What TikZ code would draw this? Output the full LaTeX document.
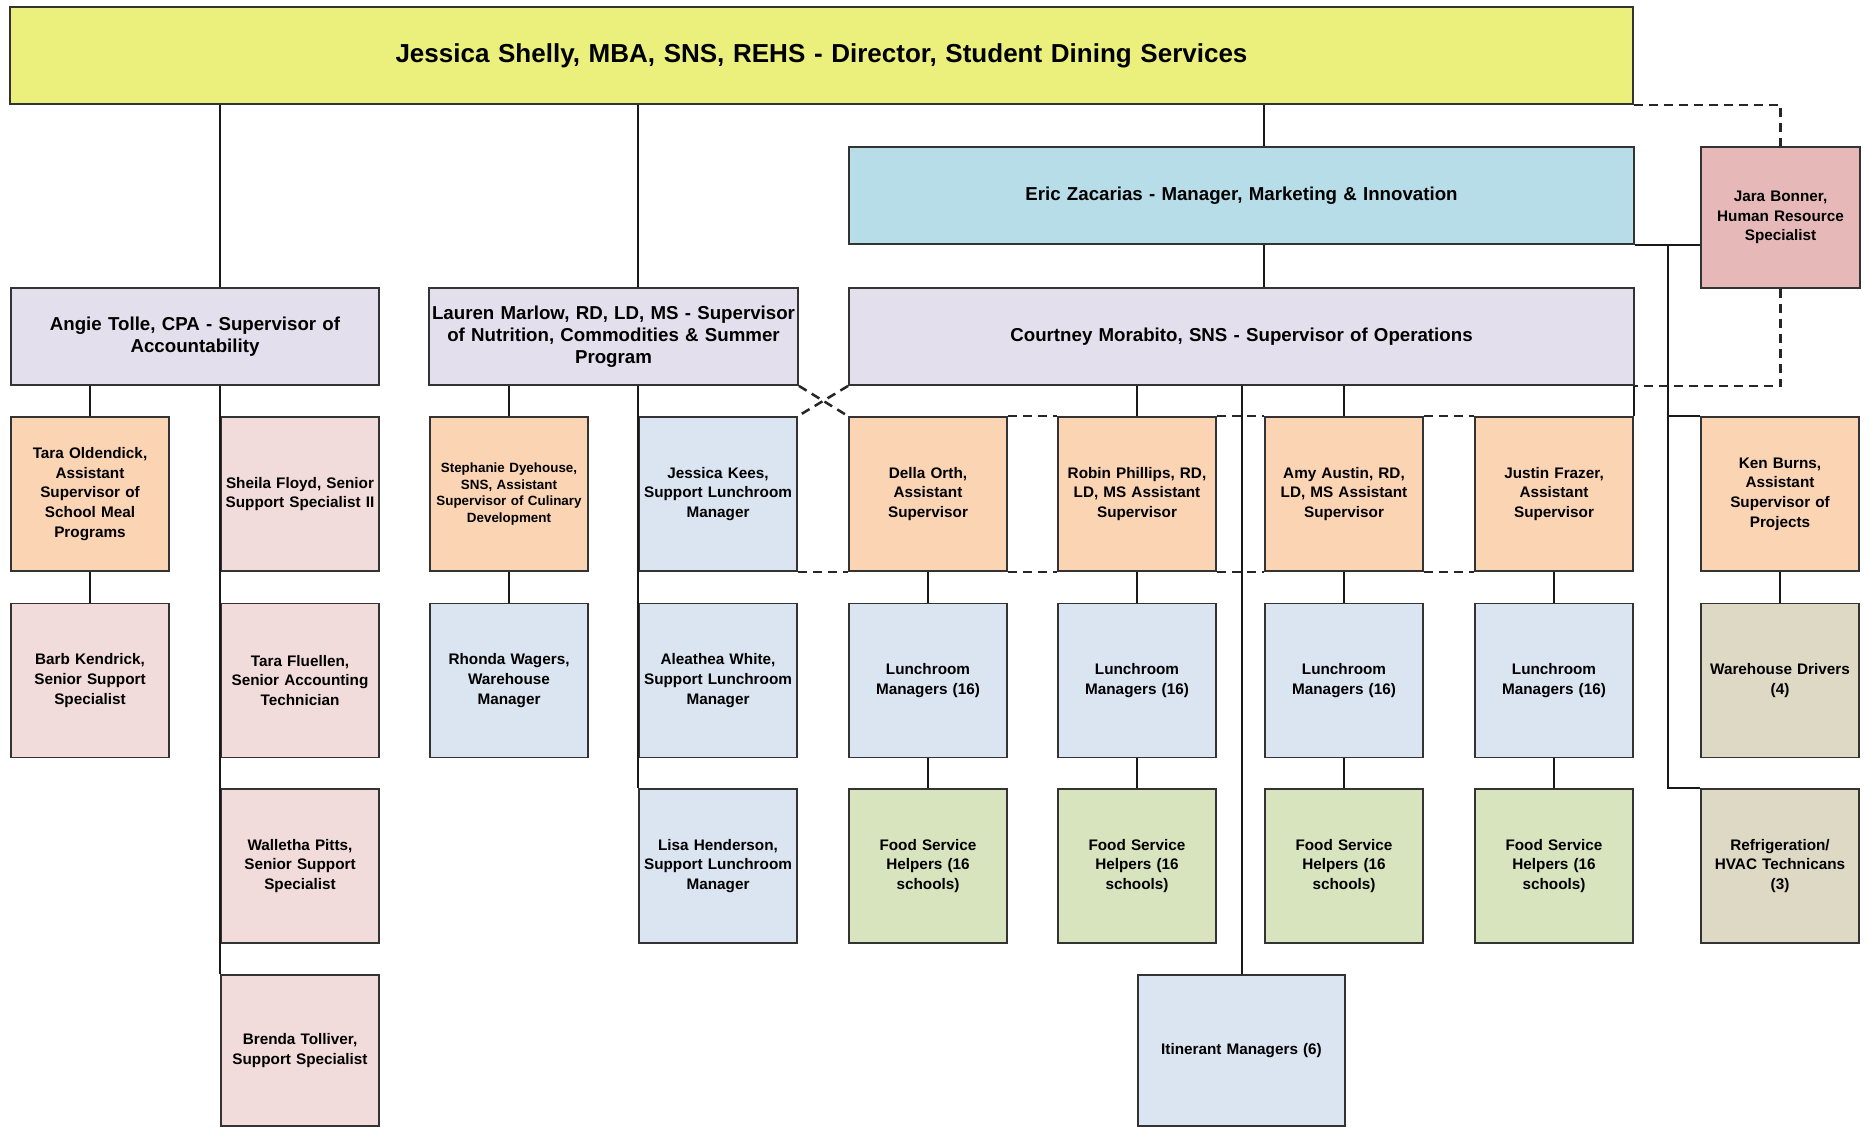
\documentclass[tikz,border=0pt]{standalone}
\usepackage{fontspec}
\setmainfont{Liberation Sans}
\usetikzlibrary{calc}

\definecolor{dirfill}{HTML}{EAF07B}
\definecolor{mktfill}{HTML}{B7DEE8}
\definecolor{supfill}{HTML}{E4DFEC}
\definecolor{hrfill}{HTML}{E6B9B8}
\definecolor{asstfill}{HTML}{FBD4B4}
\definecolor{staffill}{HTML}{F2DCDB}
\definecolor{mgrfill}{HTML}{DBE5F1}
\definecolor{helpfill}{HTML}{D7E4BD}
\definecolor{techfill}{HTML}{DDD9C4}

\begin{document}
\begin{tikzpicture}[x=1pt,y=-1pt,
  box/.style={draw=black!80, line width=1.8pt, rectangle, inner xsep=0pt, inner ysep=0pt,
              align=center, font=\bfseries\fontsize{15.3}{19.7}\selectfont},
  small/.style={box, text width=158pt, minimum height=154pt},
  mid/.style={box, font=\bfseries\fontsize{18.7}{22}\selectfont, minimum height=97pt},
  link/.style={draw=black!90, line width=2pt},
  dotlink/.style={draw=black!85, line width=2.5pt, dash pattern=on 9pt off 6pt}
]
\fill[white] (0,0) rectangle (1869,1128);
\useasboundingbox (0,0) rectangle (1869,1128);

% ---- top levels ----
\node[box, fill=dirfill, text width=1623pt, minimum height=97pt,
      font=\bfseries\fontsize{26}{30}\selectfont] (dir) at (821.5,55.5)
  {Jessica Shelly, MBA, SNS, REHS - Director, Student Dining Services};
\node[mid, fill=mktfill, text width=785pt] (eric) at (1241.5,195.5)
  {Eric Zacarias - Manager, Marketing \& Innovation};
\node[box, fill=hrfill, text width=159pt, minimum height=141pt] (jara) at (1780.5,217.5)
  {Jara Bonner,\\Human Resource\\Specialist};
\node[mid, fill=supfill, text width=368pt] (angie) at (195,336.5)
  {Angie Tolle, CPA - Supervisor of\\Accountability};
\node[mid, fill=supfill, text width=369pt] (lauren) at (613.5,336.5)
  {Lauren Marlow, RD, LD, MS - Supervisor\\of Nutrition, Commodities \& Summer\\Program};
\node[mid, fill=supfill, text width=785pt] (court) at (1241.5,336.5)
  {Courtney Morabito, SNS - Supervisor of Operations};

% ---- third row ----
\node[small, fill=asstfill] (tarao) at (90,494)
  {Tara Oldendick,\\Assistant\\Supervisor of\\School Meal\\Programs};
\node[small, fill=staffill] (sheila) at (300,494)
  {Sheila Floyd, Senior\\Support Specialist II};
\node[small, fill=asstfill, font=\bfseries\fontsize{13.4}{16.7}\selectfont] (steph) at (509,494)
  {Stephanie Dyehouse,\\SNS, Assistant\\Supervisor of Culinary\\Development};
\node[small, fill=mgrfill] (kees) at (718,494)
  {Jessica Kees,\\Support Lunchroom\\Manager};
\node[small, fill=asstfill] (della) at (928,494)
  {Della Orth,\\Assistant\\Supervisor};
\node[small, fill=asstfill] (robin) at (1137,494)
  {Robin Phillips, RD,\\LD, MS Assistant\\Supervisor};
\node[small, fill=asstfill] (amy) at (1344,494)
  {Amy Austin, RD,\\LD, MS Assistant\\Supervisor};
\node[small, fill=asstfill] (justin) at (1554,494)
  {Justin Frazer,\\Assistant\\Supervisor};
\node[small, fill=asstfill] (ken) at (1780,494)
  {Ken Burns,\\Assistant\\Supervisor of\\Projects};

% ---- fourth row ----
\node[small, fill=staffill] (barb) at (90,680.5)
  {Barb Kendrick,\\Senior Support\\Specialist};
\node[small, fill=staffill] (taraf) at (300,680.5)
  {Tara Fluellen,\\Senior Accounting\\Technician};
\node[small, fill=mgrfill] (rhonda) at (509,680.5)
  {Rhonda Wagers,\\Warehouse\\Manager};
\node[small, fill=mgrfill] (aleathea) at (718,680.5)
  {Aleathea White,\\Support Lunchroom\\Manager};
\node[small, fill=mgrfill] (lunA) at (928,680.5) {Lunchroom\\Managers (16)};
\node[small, fill=mgrfill] (lunB) at (1137,680.5) {Lunchroom\\Managers (16)};
\node[small, fill=mgrfill] (lunC) at (1344,680.5) {Lunchroom\\Managers (16)};
\node[small, fill=mgrfill] (lunD) at (1554,680.5) {Lunchroom\\Managers (16)};
\node[small, fill=techfill] (drivers) at (1780,680.5) {Warehouse Drivers\\(4)};

% ---- fifth row ----
\node[small, fill=staffill] (walletha) at (300,866)
  {Walletha Pitts,\\Senior Support\\Specialist};
\node[small, fill=mgrfill] (lisa) at (718,866)
  {Lisa Henderson,\\Support Lunchroom\\Manager};
\node[small, fill=helpfill] (fsA) at (928,866) {Food Service\\Helpers (16\\schools)};
\node[small, fill=helpfill] (fsB) at (1137,866) {Food Service\\Helpers (16\\schools)};
\node[small, fill=helpfill] (fsC) at (1344,866) {Food Service\\Helpers (16\\schools)};
\node[small, fill=helpfill] (fsD) at (1554,866) {Food Service\\Helpers (16\\schools)};
\node[small, fill=techfill] (refrig) at (1780,866)
  {Refrigeration/\\HVAC Technicans\\(3)};

% ---- sixth row ----
\node[small, fill=staffill, minimum height=151pt] (brenda) at (300,1050.5)
  {Brenda Tolliver,\\Support Specialist};
\node[box, fill=mgrfill, text width=207pt, minimum height=151pt] (itin) at (1241.5,1050.5)
  {Itinerant Managers (6)};

% ---- solid reporting lines ----
\draw[link] (dir.south -| sheila.west) -- (angie.north -| sheila.west);
\draw[link] (angie.south -| sheila.west) -- (brenda.north west);
\draw[link] (angie.south -| tarao) -- (tarao.north);
\draw[link] (tarao.south) -- (barb.north);

\draw[link] (dir.south -| kees.west) -- (lauren.north -| kees.west);
\draw[link] (lauren.south -| kees.west) -- (lisa.north west);
\draw[link] (lauren.south -| steph) -- (steph.north);
\draw[link] (steph.south) -- (rhonda.north);

\draw[link] (dir.south -| amy.west) -- (eric.north -| amy.west);
\draw[link] (eric.south -| amy.west) -- (court.north -| amy.west);

\draw[link] (court.south -| robin) -- (robin.north);
\draw[link] (court.south -| amy) -- (amy.north);
\draw[link] (court.south -| justin.east) -- (justin.north east);
\draw[link] (court.south -| itin) -- (itin.north);

\foreach \a/\b/\c in {della/lunA/fsA, robin/lunB/fsB, amy/lunC/fsC, justin/lunD/fsD}{
  \draw[link] (\a.south) -- (\b.north);
  \draw[link] (\b.south) -- (\c.north);
}

\draw[link] (eric.south east) -- (jara.west |- eric.south);
\coordinate (hrspine) at ($(eric.south east)!0.5!(jara.west |- eric.south)$);
\draw[link] (hrspine) |- (refrig.north west);
\draw[link] (hrspine |- ken.north) -- (ken.north west);
\draw[link] (ken.south) -- (drivers.north);

% ---- dotted-line relationships ----
\draw[dotlink] (dir.south east) -| (jara.north);
\draw[dotlink] (jara.south) |- (court.south east);
\draw[dotlink] (lauren.south east) -- (della.north west);
\draw[dotlink] (court.south west) -- (kees.north east);
\draw[dotlink] (kees.south east) -- (della.south west);
\draw[dotlink] (della.north east) -- (robin.north west);
\draw[dotlink] (della.south east) -- (robin.south west);
\draw[dotlink] (robin.north east) -- (amy.north west);
\draw[dotlink] (robin.south east) -- (amy.south west);
\draw[dotlink] (amy.north east) -- (justin.north west);
\draw[dotlink] (amy.south east) -- (justin.south west);
\end{tikzpicture}
\end{document}
